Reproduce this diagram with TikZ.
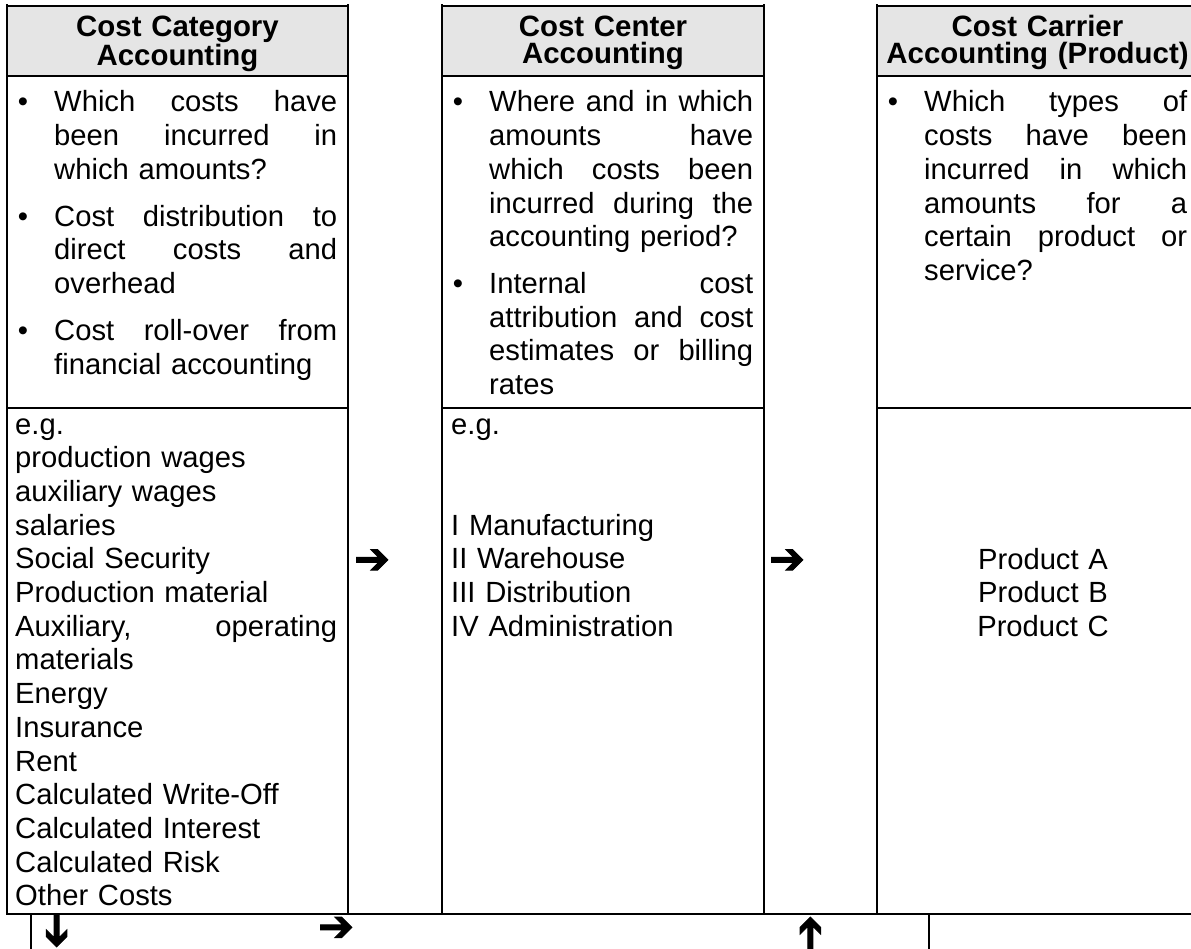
\documentclass[tikz,border=0pt]{standalone}
\usepackage{fontspec}
\setmainfont{Liberation Sans}
\newfontfamily\symfont[FakeBold=2]{DejaVu Sans}
\definecolor{hdrgray}{RGB}{229,229,229}
\begin{document}
\begin{tikzpicture}[x=1pt,y=-1pt,
  tline/.style={line width=1.8pt,line cap=rect},
  hdr/.style={font=\bfseries\fontsize{29.4}{26.6}\selectfont,align=center,inner sep=0pt,anchor=base},
  body/.style={font=\fontsize{29.2}{33.7}\selectfont,align=left,inner sep=0pt,anchor=base west},
  bul/.style={font=\fontsize{29.2}{33.7}\selectfont,inner sep=0pt,anchor=base},
  arr/.style={font=\symfont\fontsize{43}{43}\selectfont,inner sep=0pt}]
\useasboundingbox (0,0) rectangle (1191,949);
% header fills
\fill[hdrgray] (7,6) rectangle (348,76);
\fill[hdrgray] (442,6) rectangle (764,76);
\fill[hdrgray] (877,6) rectangle (1200,76);
% vertical rules
\draw[tline] (7,5) -- (7,914) (348,5) -- (348,914)
             (442,5) -- (442,914) (764,5) -- (764,914)
             (877,5) -- (877,914);
% horizontal rules
\draw[tline] (7,6) -- (348,6) (442,6) -- (764,6) (877,6) -- (1200,6)
             (7,76) -- (348,76) (442,76) -- (764,76) (877,76) -- (1200,76)
             (7,408) -- (348,408) (442,408) -- (764,408) (877,408) -- (1200,408)
             (7,914) -- (1200,914);
\draw[tline] (31,914) -- (31,960) (929,914) -- (929,960);
% headers
\node[hdr,text width=320pt] (h1) at (177.5,36.7) {Cost Category\\Accounting};
\node[hdr,text width=310pt] (h2) at (603,36.7) {Cost Center\\Accounting};
\node[hdr,text width=318pt] (h3) at (1037.5,36.7) {Cost Carrier\\Accounting (Product)};
% column 1 bullets
\node[bul] (b11) at (23,112) {\textbullet};
\node[body,text width=283pt] (t11) at (54,112) {Which\hfill costs\hfill have\\been\hfill incurred\hfill in\\which amounts?};
\node[bul] (b12) at (23,226.2) {\textbullet};
\node[body,text width=283pt] (t12) at (54,226.2) {Cost\hfill distribution\hfill to\\direct\hfill costs\hfill and\\overhead};
\node[bul] (b13) at (23,340.4) {\textbullet};
\node[body,text width=283pt] (t13) at (54,340.4) {Cost\hfill roll-over\hfill from\\financial accounting};
% column 2 bullets
\node[bul] (b21) at (458,112) {\textbullet};
\node[body,text width=264pt] (t21) at (489,112) {Where\hfill and\hfill in\hfill which\\amounts\hfill have\\which\hfill costs\hfill been\\incurred\hfill during\hfill the\\accounting period?};
\node[bul] (b22) at (458,293.6) {\textbullet};
\node[body,text width=264pt] (t22) at (489,293.6) {Internal\hfill cost\\attribution\hfill and\hfill cost\\estimates\hfill or\hfill billing\\rates};
% column 3 bullet
\node[bul] (b31) at (893,112) {\textbullet};
\node[body,text width=263pt] (t31) at (924,112) {Which\hfill types\hfill of\\costs\hfill have\hfill been\\incurred\hfill in\hfill which\\amounts\hfill for\hfill a\\certain\hfill product\hfill or\\service?};
% examples
\node[body,text width=322pt] (e1) at (15,434) {e.g.\\production wages\\auxiliary wages\\salaries\\Social Security\\Production material\\Auxiliary,\hfill operating\\materials\\Energy\\Insurance\\Rent\\Calculated Write-Off\\Calculated Interest\\Calculated Risk\\Other Costs};
\node[body,text width=300pt] (e2) at (451,434) {e.g.};
\node[body,text width=300pt] (e2list) at (451,535.1) {I Manufacturing\\II Warehouse\\III Distribution\\IV Administration};
\node[body,align=center,text width=250pt,anchor=base] (e3) at (1043,569) {Product A\\Product B\\Product C};
% arrows
\node[arr] (a1) at (372,561.5) {➔};
\node[arr] (a2) at (787,561.5) {➔};
\node[arr,rotate=-90] (a3) at (55,931) {➔};
\node[arr] (a4) at (336,929) {➔};
\node[arr,rotate=90] (a5) at (812,933) {➔};
\end{tikzpicture}
\end{document}
